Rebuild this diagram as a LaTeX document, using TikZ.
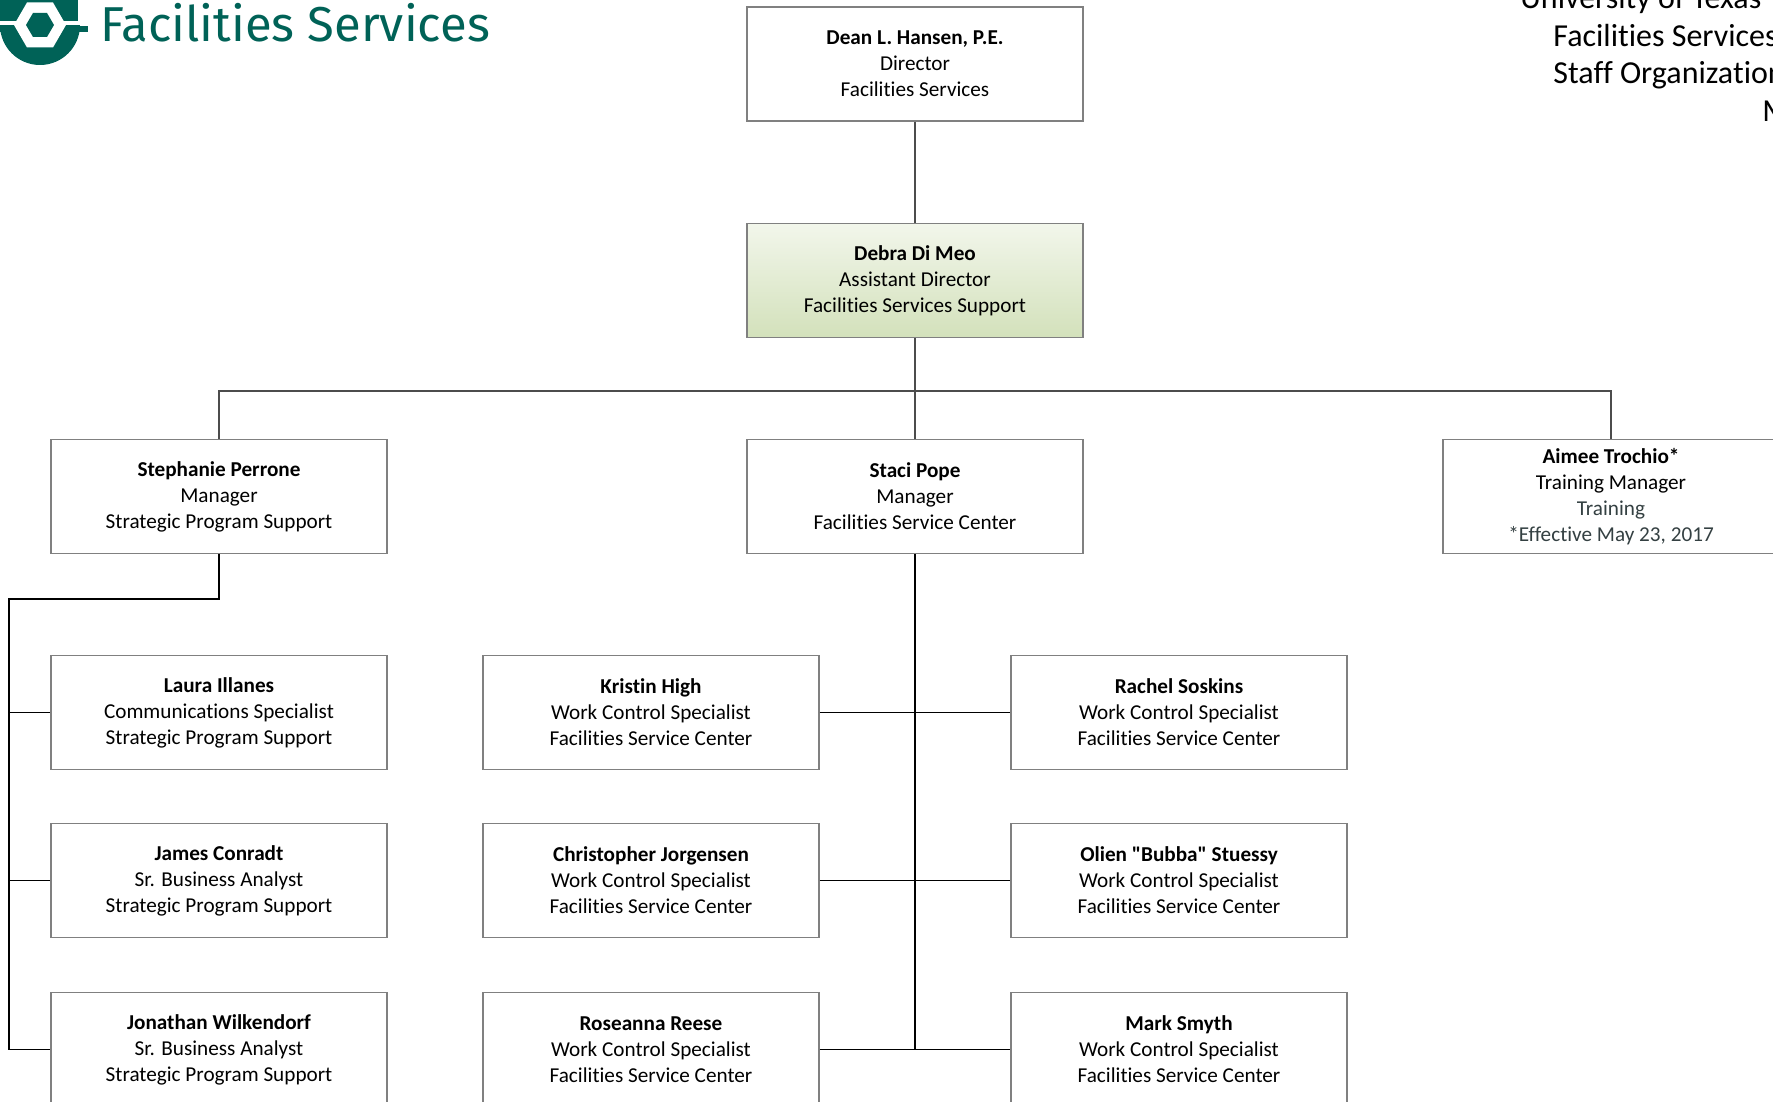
\documentclass[tikz,border=0pt]{standalone}
\usepackage{fontspec}
\setmainfont{Carlito}[Ligatures={TeX,NoCommon}]
\newfontfamily\logofont{Fira Sans}[Ligatures={TeX,NoCommon}]
\usepackage{xcolor}
\usepackage{tikz}

\definecolor{fsteal}{RGB}{0,98,87}
\definecolor{boxgray}{RGB}{128,128,128}
\definecolor{asstop}{RGB}{242,246,235}
\definecolor{assbot}{RGB}{211,225,187}
\definecolor{slate}{RGB}{52,64,66}

\begin{document}
\begin{tikzpicture}[
  x=0.5pt, y=-0.5pt,
  every node/.style={inner sep=0pt},
  staff/.style={draw=boxgray, line width=0.65pt, fill=white, minimum width=168pt, minimum height=57pt, align=center, font=\fontsize{10.6}{13}\selectfont},
  asst/.style={staff, top color=asstop, bottom color=assbot},
  upper/.style={draw=black!70, line width=0.6pt},
  link/.style={draw=black, line width=0.5pt},
  trunk/.style={draw=black, line width=1pt},
  title/.style={anchor=base west, font=\fontsize{16}{16}\selectfont}
]
\useasboundingbox (0,0) rectangle (1773,1102);
\clip (0,0) rectangle (1773,1102);

\fill[fsteal] (0,-5) rectangle (78,21);
\fill[fsteal] (-2,26) rectangle (88,32);
\begin{scope}
  \clip (-10,26) rectangle (100,80);
  \fill[fsteal] (40,25) circle [radius=40];
\end{scope}
\fill[white] (14,25) -- (27,2.5) -- (53,2.5) -- (66,25) -- (53,47.5) -- (27,47.5) -- cycle;
\fill[fsteal] (26,25) -- (33,13) -- (47,13) -- (54,25) -- (47,37) -- (33,37) -- cycle;
\node[anchor=base west, text=fsteal, font=\logofont\fontsize{24.5}{24.5}\selectfont] (logo) at (100,42) {Facilities Services};

\node[title] (ut) at (1520,9) {University of Texas};
\node[title] (unit) at (1553,47) {Facilities Services};
\node[title] (chart) at (1553,84) {Staff Organization};
\node[title] (month) at (1762,122) {M};

\node[staff] (dean) at (915,64) {\textbf{Dean L. Hansen, P.E.}\\Director\\Facilities Services};
\node[asst] (debra) at (915,280.5) {\textbf{Debra Di Meo}\\Assistant Director\\Facilities Services Support};

\node[staff] (perrone) at (219,496.5) {\textbf{Stephanie Perrone}\\Manager\\Strategic Program Support};
\node[staff] (pope) at (915,496.5) {\textbf{Staci Pope}\\Manager\\Facilities Service Center};
\node[staff] (trochio) at (1611,496.5) {\textbf{Aimee Trochio*}\\Training Manager\\\textcolor{slate}{Training}\\\textcolor{slate}{*Effective May 23, 2017}};

\node[staff] (illanes) at (219,712.5) {\textbf{Laura Illanes}\\Communications Specialist\\Strategic Program Support};
\node[staff] (conradt) at (219,880.5) {\textbf{James Conradt}\\Sr. Business Analyst\\Strategic Program Support};
\node[staff] (wilkendorf) at (219,1049.5) {\textbf{Jonathan Wilkendorf}\\Sr. Business Analyst\\Strategic Program Support};

\node[staff] (high) at (651,712.5) {\textbf{Kristin High}\\Work Control Specialist\\Facilities Service Center};
\node[staff] (jorgensen) at (651,880.5) {\textbf{Christopher Jorgensen}\\Work Control Specialist\\Facilities Service Center};
\node[staff] (reese) at (651,1049.5) {\textbf{Roseanna Reese}\\Work Control Specialist\\Facilities Service Center};

\node[staff] (soskins) at (1179,712.5) {\textbf{Rachel Soskins}\\Work Control Specialist\\Facilities Service Center};
\node[staff] (stuessy) at (1179,880.5) {\textbf{Olien \textquotedbl Bubba\textquotedbl\ Stuessy}\\Work Control Specialist\\Facilities Service Center};
\node[staff] (smyth) at (1179,1049.5) {\textbf{Mark Smyth}\\Work Control Specialist\\Facilities Service Center};

\coordinate (bus) at (915,391);
\coordinate (sbend) at (9,599);

\draw[upper] (dean) -- (debra);
\draw[upper] (debra) -- (pope);
\draw[upper] (perrone.north) |- (bus) -| (trochio.north);

\draw[trunk] (perrone.south) |- (sbend) -- (sbend |- wilkendorf.west);
\draw[link] (sbend |- illanes.west) -- (illanes.west);
\draw[link] (sbend |- conradt.west) -- (conradt.west);
\draw[link] (sbend |- wilkendorf.west) -- (wilkendorf.west);

\draw[trunk] (pope.south) -- (pope.south |- smyth.west);
\draw[link] (high) -- (soskins);
\draw[link] (jorgensen) -- (stuessy);
\draw[link] (reese) -- (smyth);
\end{tikzpicture}
\end{document}
